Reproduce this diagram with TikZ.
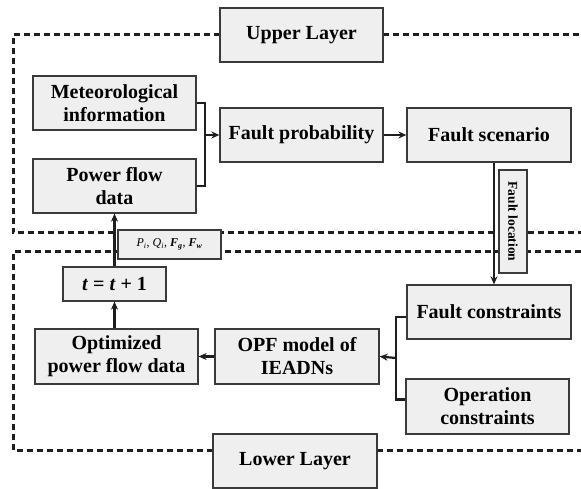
\documentclass[tikz,border=0pt]{standalone}
\usepackage{fontspec}
\setmainfont{Liberation Serif}
\usepackage{tikz}
\usetikzlibrary{arrows.meta}
\definecolor{BoxFill}{HTML}{EFEFEF}
\definecolor{BoxEdge}{HTML}{3A3A3A}
\definecolor{LineDark}{HTML}{1E1E1E}

\tikzset{
  blockbox/.style={draw=BoxEdge, fill=BoxFill, line width=1.3pt, minimum width=163pt, minimum height=54pt, inner sep=2pt, align=center, font=\bfseries\fontsize{20}{23}\selectfont},
  tagbox/.style={draw=BoxEdge, fill=BoxFill, line width=1.3pt, inner sep=2pt, align=center},
  layerline/.style={draw=LineDark, line width=3pt, dash pattern=on 6pt off 4pt},
  flowline/.style={draw=LineDark, line width=2.2pt},
  flowarrow/.style={flowline, -{Stealth[length=8pt, width=7pt]}}
}

\begin{document}
\begin{tikzpicture}[x=1pt, y=-1pt]
  \useasboundingbox (0,0) rectangle (581,489);

  % layer frames
  \draw[layerline] (220,35) -- (13,35) -- (13,233) -- (581,233);
  \draw[layerline] (383,35) -- (581,35);
  \draw[layerline] (581,252) -- (13,252) -- (13,450) -- (213,450);
  \draw[layerline] (377,450) -- (581,450);

  % upper layer
  \node[blockbox] (upper) at (301.5,35) {Upper Layer};
  \node[blockbox] (meteo) at (114.5,103) {Meteorological\\information};
  \node[blockbox] (power) at (114.5,186) {Power flow\\data};
  \node[blockbox] (prob) at (301.5,135) {Fault probability};
  \node[blockbox, minimum width=164pt] (scen) at (489,135) {Fault scenario};

  % lower layer
  \node[blockbox, minimum width=164pt] (fcons) at (489,312) {Fault constraints};
  \node[blockbox, minimum height=55pt] (ocons) at (487.5,406.5) {Operation\\constraints};
  \node[blockbox, minimum width=164pt, minimum height=55pt] (opf) at (297,356.5) {OPF model of\\IEADNs};
  \node[blockbox, minimum height=55pt] (optim) at (116.5,356.5) {Optimized\\power flow data};
  \node[blockbox, minimum width=103pt, minimum height=34pt] (tinc) at (114.5,284) {\textit{t} = \textit{t} + 1};
  \node[blockbox, minimum width=164pt] (lower) at (295,461) {Lower Layer};

  % exchanged data
  \node[tagbox, minimum width=103pt, minimum height=29pt, font=\fontsize{12}{14}\selectfont] (pq) at (169.5,244.5)
    {\textit{P\textsubscript{i}}, \textit{Q\textsubscript{i}}, \textbf{\textit{F\textsubscript{g}}}, \textbf{\textit{F\textsubscript{w}}}};
  \node[tagbox, minimum width=103pt, minimum height=28pt, inner sep=1pt, rotate=-90, font=\bfseries\fontsize{13.5}{15}\selectfont] (floc) at (513,221.5) {Fault location};

  % connectors
  \coordinate (mj) at (205,135);
  \draw[flowline] (meteo.east) -| (mj) |- (power.east);
  \draw[flowarrow] (mj) -- (prob.west);
  \draw[flowarrow] (prob.east) -- (scen.west);
  \draw[flowarrow] ([xshift=5pt]scen.south) -- ([xshift=5pt]fcons.north);
  \coordinate (cj) at (396,358);
  \draw[flowline] ([yshift=-5pt]fcons.west) -| (cj) |- ([yshift=7pt]ocons.west);
  \draw[flowarrow] (cj) -- (opf.east);
  \draw[flowarrow] (opf.west) -- (optim.east);
  \draw[flowarrow] (tinc.south |- optim.north) -- (tinc.south);
  \draw[flowarrow] (tinc.north) -- (power.south);
\end{tikzpicture}
\end{document}
